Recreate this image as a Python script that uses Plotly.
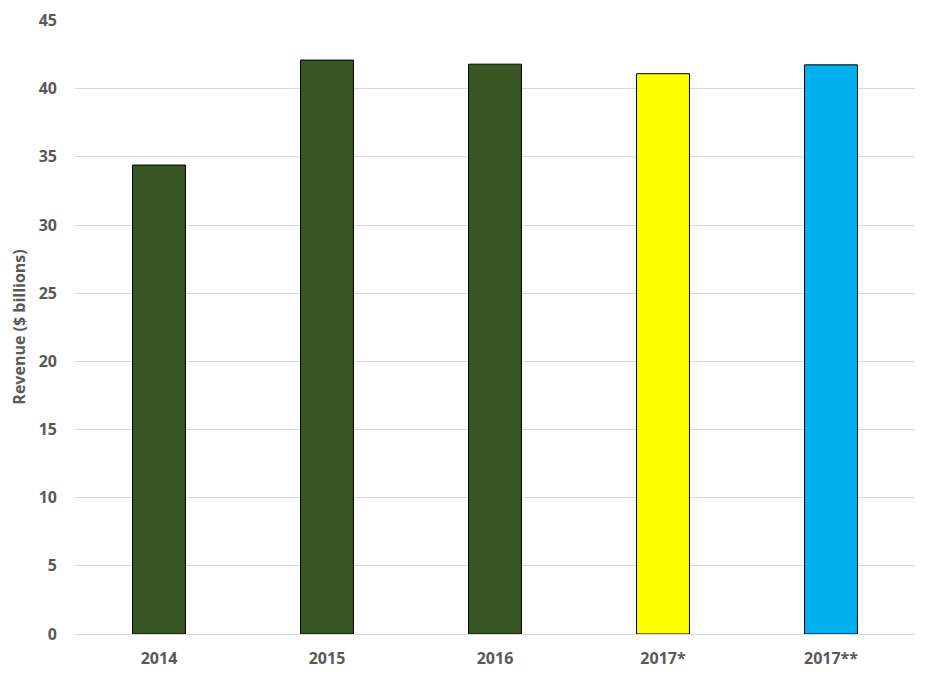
"""Revenue bar chart, 2014-2017 forecasts."""

import plotly.graph_objects as go

years = ["2014", "2015", "2016", "2017*", "2017**"]
revenue = [34.4, 42.1, 41.8, 41.1, 41.75]
bar_colors = ["#375623", "#375623", "#375623", "#FFFF00", "#00B0F0"]

y_ticks = [0, 5, 10, 15, 20, 25, 30, 35, 40, 45]

TEXT = "#595959"

fig = go.Figure()
fig.add_trace(go.Bar(
    x=years,
    y=revenue,
    marker=dict(color=bar_colors, line=dict(color="#000000", width=1)),
    hoverinfo="x+y",
))

# page body adds ~8px offset, so margins are nudged to line up
fig.update_layout(
    width=925,
    height=675,
    margin=dict(l=67, r=18, t=12, b=49),
    paper_bgcolor="white",
    plot_bgcolor="white",
    bargap=0.685,
    showlegend=False,
    font=dict(family="Open Sans", color=TEXT, size=16),
)
fig.update_xaxes(
    automargin=False,
    showgrid=False,
    showline=True,
    linecolor="#d9d9d9",
    linewidth=1,
    ticks="",
    ticklabelstandoff=10,
    tickfont=dict(size=16, color=TEXT, weight="bold"),
)
fig.update_yaxes(
    automargin=False,
    range=[0, 45.04],  # tiny headroom so the 45 gridline is drawn
    tickvals=y_ticks,
    showgrid=True,
    gridcolor="#d9d9d9",
    gridwidth=1,
    zeroline=False,
    ticks="",
    ticklabeloverflow="allow",
    ticklabelstandoff=17,
    tickfont=dict(size=16, color=TEXT, weight="bold"),
    title=dict(text="Revenue ($ billions)", font=dict(size=16, color=TEXT, weight="bold"), standoff=12),
)

fig.write_html("out.html")
